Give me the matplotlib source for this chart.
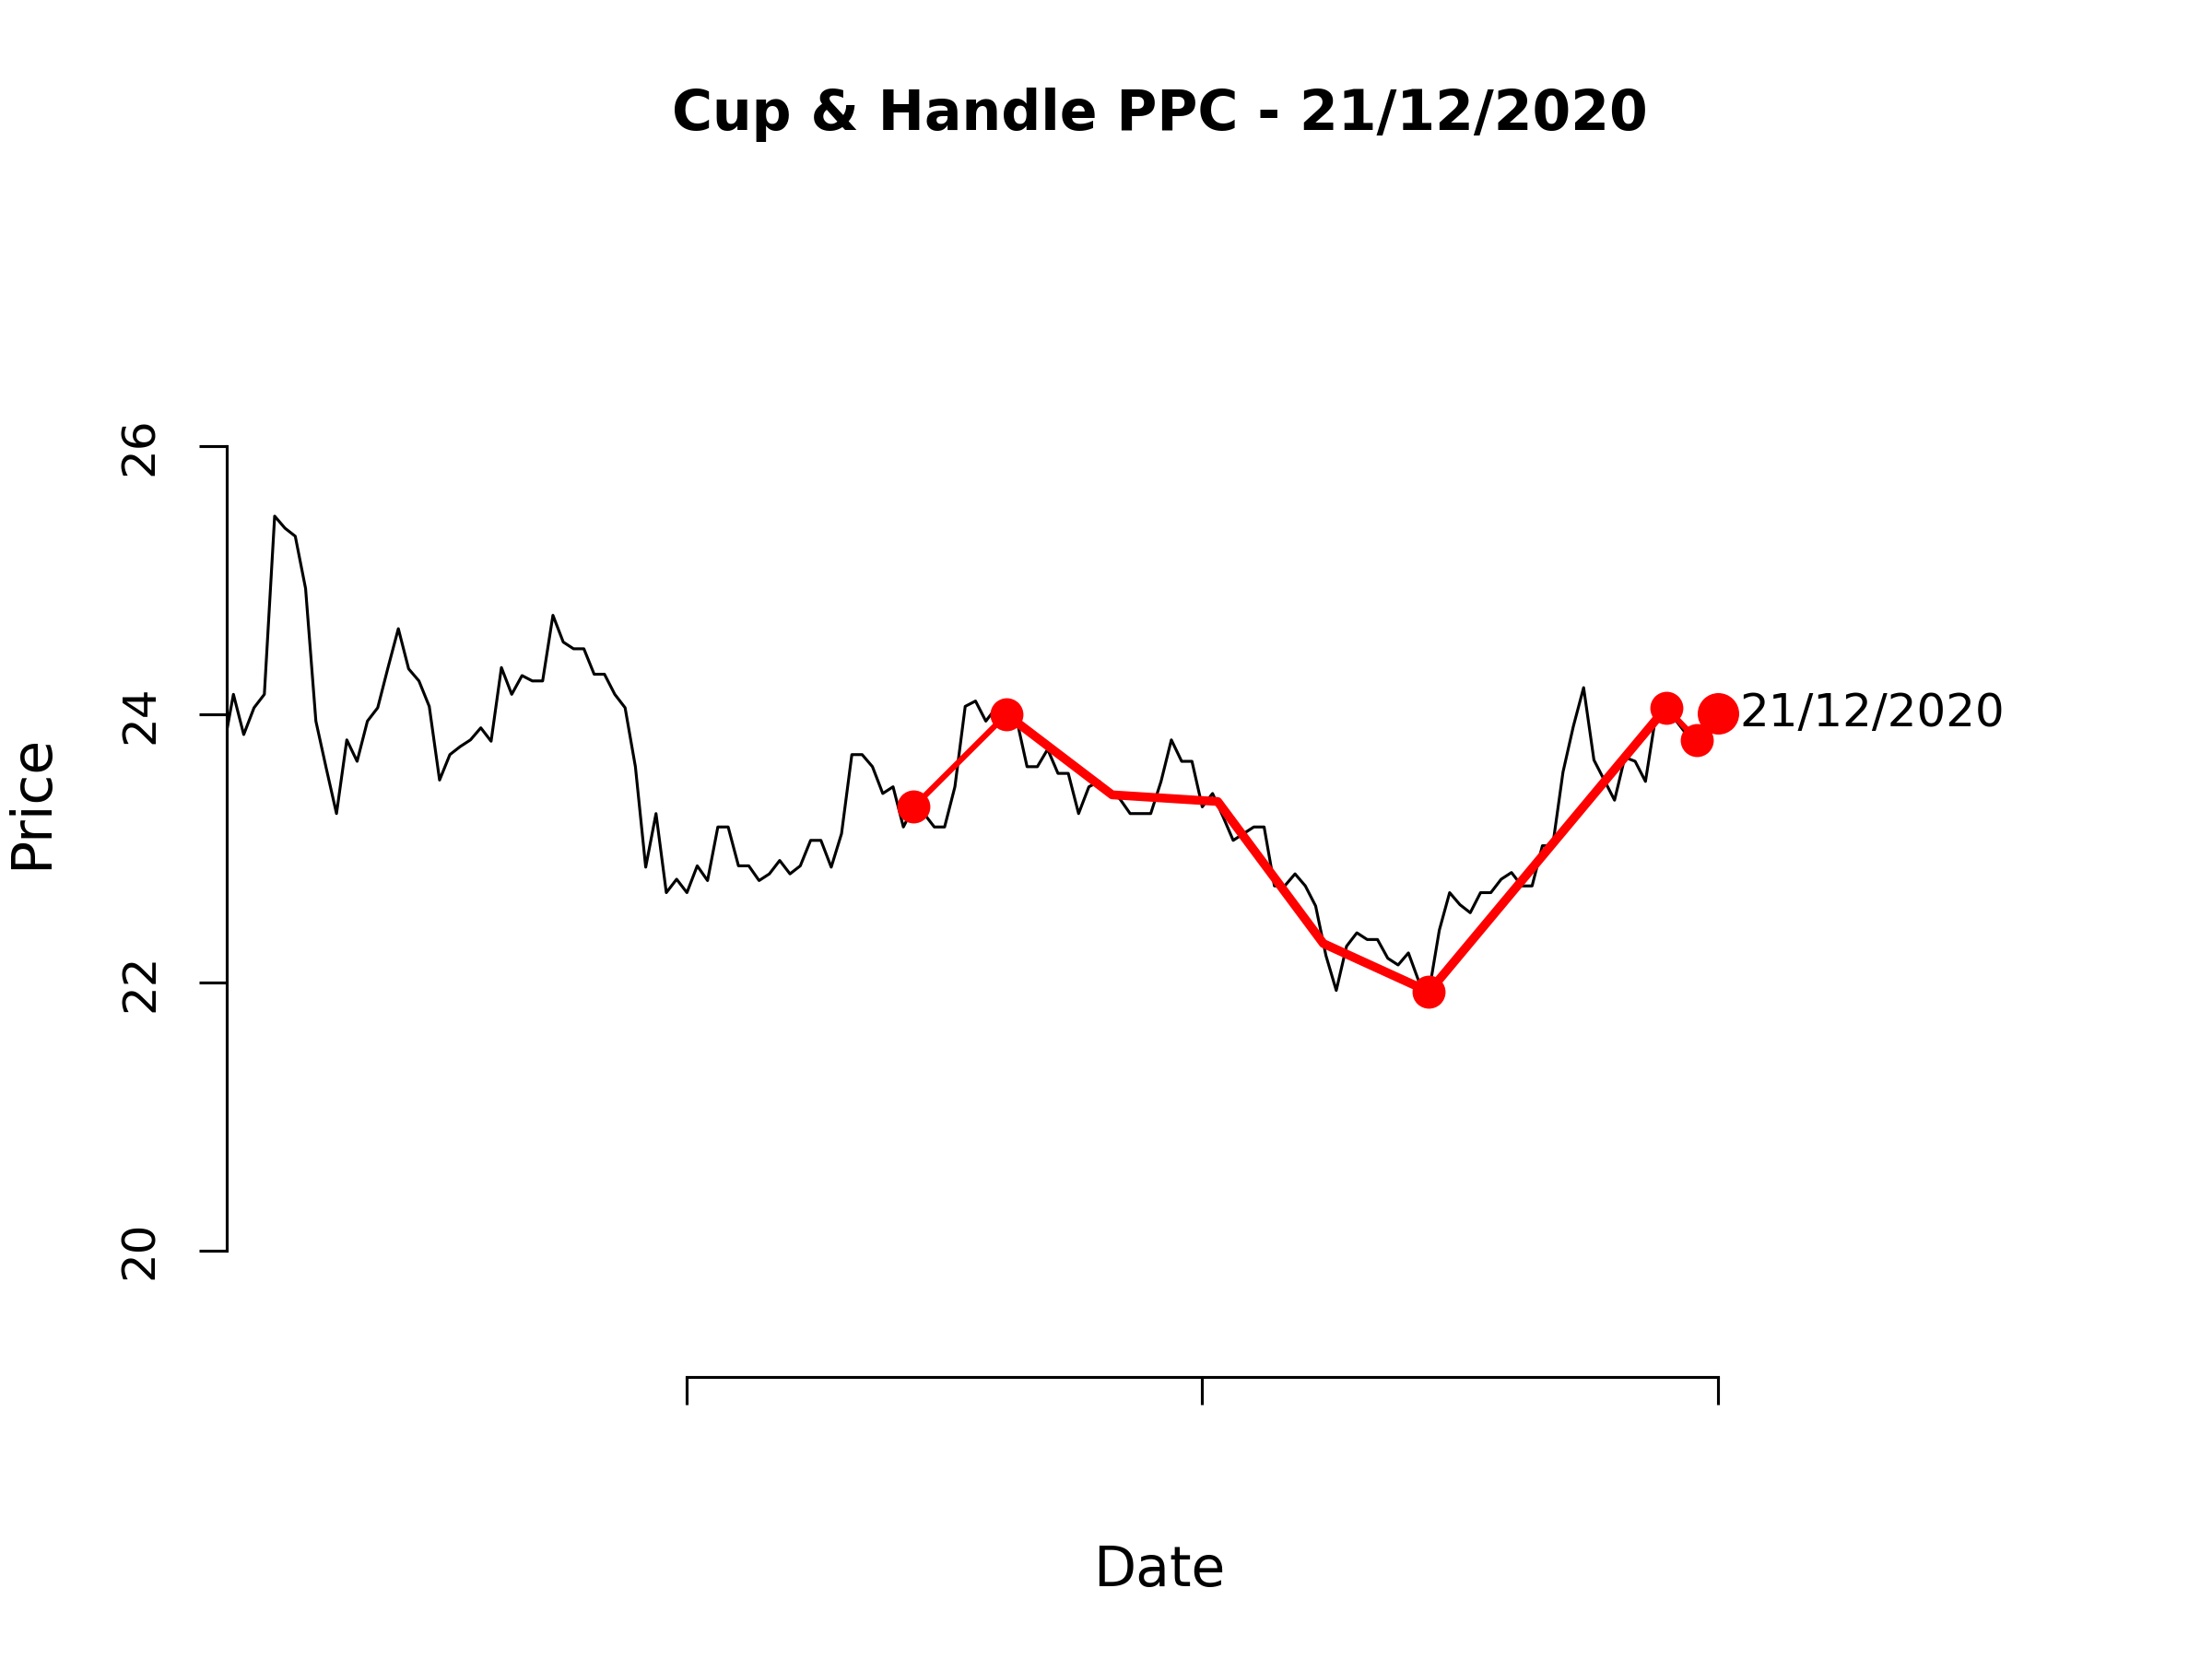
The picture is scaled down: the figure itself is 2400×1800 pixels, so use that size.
import matplotlib
matplotlib.use('Agg')
from matplotlib import pyplot as plt

# closing prices, one per trading day (index 1..146)
price = [23.73, 24.15, 23.85, 24.05, 24.15, 25.48, 25.39, 25.33, 24.94, 23.95,
         23.60, 23.26, 23.81, 23.65, 23.95, 24.05, 24.35, 24.64, 24.34, 24.25,
         24.06, 23.51, 23.70, 23.76, 23.81, 23.90, 23.80, 24.35, 24.15, 24.29,
         24.25, 24.25, 24.74, 24.54, 24.49, 24.49, 24.30, 24.30, 24.15, 24.05,
         23.61, 22.86, 23.26, 22.67, 22.77, 22.67, 22.87, 22.76, 23.16, 23.16,
         22.87, 22.87, 22.76, 22.81, 22.91, 22.81, 22.87, 23.06, 23.06, 22.86,
         23.11, 23.70, 23.70, 23.61, 23.41, 23.46, 23.16, 23.31, 23.26, 23.16,
         23.16, 23.46, 24.06, 24.10, 23.95, 24.05, 24.00, 23.96, 23.61, 23.61,
         23.74, 23.56, 23.56, 23.26, 23.46, 23.50, 23.42, 23.37, 23.26, 23.26,
         23.26, 23.50, 23.81, 23.65, 23.65, 23.31, 23.41, 23.24, 23.06, 23.11,
         23.16, 23.16, 22.72, 22.72, 22.81, 22.72, 22.57, 22.20, 21.94, 22.27,
         22.37, 22.32, 22.32, 22.18, 22.13, 22.22, 22.01, 21.93, 22.39, 22.67,
         22.58, 22.52, 22.67, 22.67, 22.77, 22.82, 22.72, 22.72, 23.02, 23.02,
         23.57, 23.91, 24.20, 23.66, 23.51, 23.36, 23.68, 23.65, 23.50, 23.99,
         24.05, 23.95, 23.85, 23.81, 23.90, 24.01]
day = list(range(1, len(price) + 1))

# pattern points: lead-in, left lip, cup curve, bottom, right lip, handle, breakout
lead_x = [68, 77]
lead_y = [23.31, 24.00]
cup_x = [77, 87.25, 97.5, 107.75, 118, 141]
cup_y = [24.00, 23.40, 23.35, 22.29, 21.93, 24.05]
handle_x = [141, 144, 146]
handle_y = [24.05, 23.81, 24.01]
dot_x = [68, 77, 118, 141, 144]
dot_y = [23.31, 24.00, 21.93, 24.05, 23.81]
last_x, last_y = 146, 24.01
last_label = '21/12/2020'

y_ticks = [20, 22, 24, 26]
x_ticks = [46, 96, 146]

fig = plt.figure(figsize=(8, 6), dpi=300)
ax = fig.add_axes([246 / 2400, 1 - 1494 / 1800, 2028 / 2400, 1248 / 1800])

ax.plot(day, price, color='black', lw=0.75)
ax.plot(lead_x, lead_y, color='red', lw=1.5, solid_capstyle='round')
ax.plot(cup_x, cup_y, color='red', lw=2.3, solid_joinstyle='round')
ax.plot(handle_x, handle_y, color='red', lw=1.5)
ax.plot(dot_x, dot_y, 'o', color='red', ms=8.6, mew=0)
ax.plot([last_x], [last_y], 'o', color='red', ms=10.8, mew=0)
ax.annotate(last_label, (last_x, last_y), xytext=(5.8, 0), textcoords='offset points',
            ha='left', va='center', fontsize=12)

ax.set_xlim(1.35, 182.7)
ax.set_ylim(19.055, 27.64)

for side in ['top', 'right']:
    ax.spines[side].set_visible(False)
ax.spines['left'].set_bounds(20, 26)
ax.spines['bottom'].set_bounds(46, 146)
for side in ['left', 'bottom']:
    ax.spines[side].set_linewidth(0.75)

ax.set_yticks(y_ticks)
ax.set_yticklabels([str(v) for v in y_ticks], rotation=90, va='center', fontsize=12)
ax.set_xticks(x_ticks)
ax.set_xticklabels([])
ax.tick_params(direction='out', length=7.2, width=0.75, pad=9.6)

fig.text(1258 / 2400, 1 - 125 / 1800, 'Cup & Handle PPC - 21/12/2020',
         ha='center', va='center', fontsize=14.4, fontweight='bold')
fig.text(1258 / 2400, 1 - 1704 / 1800, 'Date', ha='center', va='center', fontsize=14.4)
fig.text(35 / 2400, 1 - 870 / 1800, 'Price', ha='center', va='center', rotation=90, fontsize=14.4)

plt.savefig('out.png', dpi=300)
